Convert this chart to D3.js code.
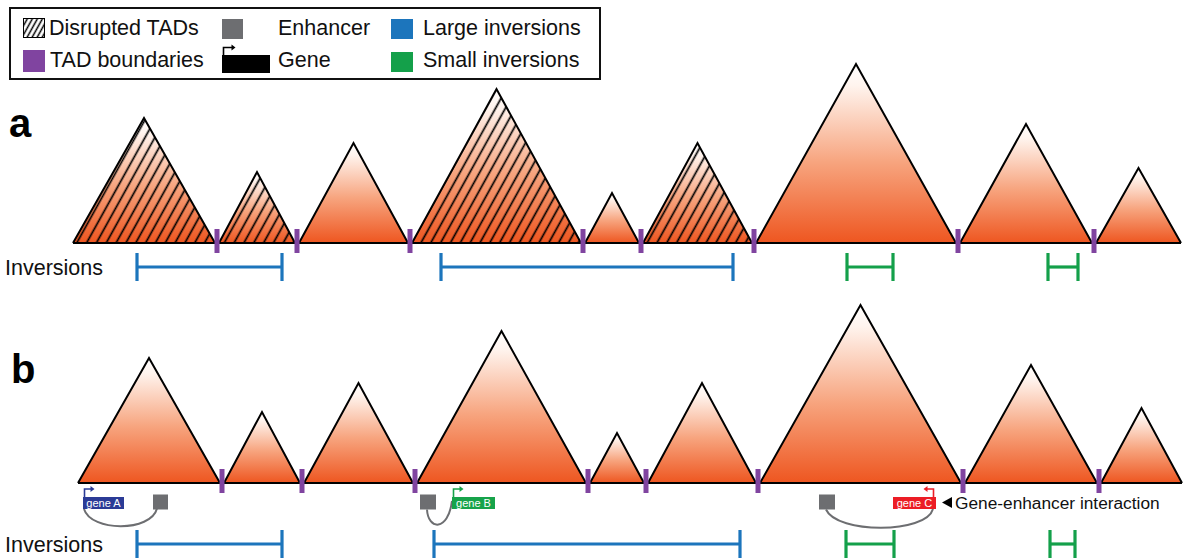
<!DOCTYPE html>
<html>
<head>
<meta charset="utf-8">
<script src="https://cdn.jsdelivr.net/npm/d3@7"></script>
<style>
  html, body { margin: 0; padding: 0; background: #fff; }
  svg { display: block; }
  text { font-family: "Liberation Sans", Arial, Helvetica, sans-serif; }
</style>
</head>
<body>
<svg id="chart" width="1183" height="559"></svg>
<script>
// ---------------- DATA ----------------
// TAD edges (relative genomic units) for panel a and b
const boundariesA = [0, 144, 224, 337, 510, 568, 681, 885, 1021, 1108];
const boundariesB = [0, 144, 224, 337, 510, 568, 680, 885, 1021, 1104];
// TAD heights (relative units)
const tadHeightsA = [125, 71, 100, 154, 50, 100, 179, 119, 75];
const tadHeightsB = [125, 71, 100, 152, 50, 100, 178, 118, 75];
// Disrupted TADs in panel a
const disruptedA = [true, true, false, true, false, true, false, false, false];
// Inversions [start, end]
const largeInvA = [[64, 209], [368, 660]];
const smallInvA = [[774, 820], [975, 1005]];
const largeInvB = [[59, 204], [356, 662]];
const smallInvB = [[768, 816], [972, 997]];
// Genes and enhancers (panel b)
const geneNames = ["gene A", "gene B", "gene C"];
const geneStart = [5, 374, 815];
const geneEnd = [46, 417, 858];
const geneStrand = [1, 1, -1];
const enhancerStart = [75, 342, 741];
const enhancerEnd = [90, 358, 757];
// Legend
const legendLabels = ["Disrupted TADs", "Enhancer", "Large inversions", "TAD boundaries", "Gene", "Small inversions"];
const panelLabels = ["a", "b"];
const inversionLabel = "Inversions";
const interactionLabel = "Gene-enhancer interaction";

// ---------------- STYLE ----------------
const C = {
  purple: "#8044a0", blue: "#1c75bc", green: "#14a04a", gray: "#6d6e71",
  geneColors: ["#2b3b96", "#17a34a", "#ec1d25"], orange: "#ef5722"
};

const svg = d3.select("#chart");
const defs = svg.append("defs");

const grad = defs.append("linearGradient").attr("id", "tadGrad")
  .attr("x1", 0).attr("y1", 0).attr("x2", 0).attr("y2", 1);
[[0, "#ffffff"], [0.12, "#fff4ee"], [0.55, "#f7a47e"], [1, "#ee5620"]].forEach(([o, c]) =>
  grad.append("stop").attr("offset", o).attr("stop-color", c));

function makeHatch(id, w, sw) {
  const p = defs.append("pattern").attr("id", id)
    .attr("patternUnits", "userSpaceOnUse").attr("width", w).attr("height", 20)
    .attr("patternTransform", "rotate(29)");
  p.append("line").attr("x1", w / 2).attr("y1", 0).attr("x2", w / 2).attr("y2", 20)
    .attr("stroke", "#000").attr("stroke-width", sw);
}
makeHatch("hatch", 8.6, 1.7);
makeHatch("hatchSmall", 4.4, 1.5);

// ---------------- PANELS ----------------
function drawPanel(cfg) {
  const g = svg.append("g");
  const x = d3.scaleLinear().domain([0, cfg.bounds[cfg.bounds.length - 1]]).range(cfg.xRange);
  const y = d3.scaleLinear().domain([0, 180]).range([cfg.base, cfg.base - 180]);
  const n = cfg.heights.length;
  const tris = cfg.heights.map((h, i) => {
    const x0 = x(cfg.bounds[i]) + (i > 0 ? 2 : 0);
    const x1 = x(cfg.bounds[i + 1]) - (i < n - 1 ? 2 : 0);
    return { pts: [[x0, cfg.base], [(x0 + x1) / 2, y(h)], [x1, cfg.base]], dis: cfg.disrupted ? cfg.disrupted[i] : false };
  });
  const line = d3.line();
  g.selectAll("path.tri").data(tris).join("path").attr("class", "tri")
    .attr("d", d => line(d.pts) + "Z").attr("fill", "url(#tadGrad)");
  g.selectAll("path.hat").data(tris.filter(d => d.dis)).join("path").attr("class", "hat")
    .attr("d", d => line(d.pts) + "Z").attr("fill", "url(#hatch)");
  g.selectAll("path.edge").data(tris).join("path").attr("class", "edge")
    .attr("d", d => line(d.pts)).attr("fill", "none").attr("stroke", "#000")
    .attr("stroke-width", 2).attr("stroke-linejoin", "miter");
  g.append("line").attr("x1", x(0)).attr("x2", x(cfg.bounds[cfg.bounds.length - 1]))
    .attr("y1", cfg.base).attr("y2", cfg.base).attr("stroke", "#000").attr("stroke-width", 2);
  g.selectAll("rect.bd").data(cfg.bounds.slice(1, -1)).join("rect").attr("class", "bd")
    .attr("x", d => x(d) - 2.5).attr("y", cfg.base - 14).attr("width", 5).attr("height", 24)
    .attr("fill", C.purple);

  // inversions
  const inv = cfg.large.map(d => ({ d, c: C.blue })).concat(cfg.small.map(d => ({ d, c: C.green })));
  const ig = g.selectAll("g.inv").data(inv).join("g").attr("class", "inv")
    .attr("stroke", d => d.c).attr("stroke-width", 3.2);
  ig.append("line").attr("x1", d => x(d.d[0])).attr("x2", d => x(d.d[1]))
    .attr("y1", cfg.invY).attr("y2", cfg.invY);
  ig.append("line").attr("x1", d => x(d.d[0])).attr("x2", d => x(d.d[0]))
    .attr("y1", cfg.invY - 14).attr("y2", cfg.invY + 14);
  ig.append("line").attr("x1", d => x(d.d[1])).attr("x2", d => x(d.d[1]))
    .attr("y1", cfg.invY - 14).attr("y2", cfg.invY + 14);
  g.append("text").attr("x", cfg.invLabelX).attr("y", cfg.invY + 8).attr("font-size", 21.5)
    .attr("fill", "#111").text(inversionLabel);
  g.append("text").attr("x", cfg.labelX).attr("y", cfg.labelY).attr("font-size", 40)
    .attr("font-weight", "bold").attr("fill", "#000").text(cfg.label);
  return { g, x };
}

drawPanel({ bounds: boundariesA, heights: tadHeightsA, disrupted: disruptedA, xRange: [73, 1181],
  base: 243, large: largeInvA, small: smallInvA, invY: 267, invLabelX: 5, label: panelLabels[0], labelX: 9, labelY: 137 });
const pb = drawPanel({ bounds: boundariesB, heights: tadHeightsB, disrupted: null, xRange: [78, 1182],
  base: 483, large: largeInvB, small: smallInvB, invY: 544, invLabelX: 5, label: panelLabels[1], labelX: 11, labelY: 383 });

// genes / enhancers in panel b
function bentArrow(g, x0, yBot, yTop, dir, len, color, w) {
  const x1 = x0 + dir * len;
  g.append("path").attr("d", `M${x0},${yBot}V${yTop}H${x1 - dir * 3}`)
    .attr("fill", "none").attr("stroke", color).attr("stroke-width", w || 1.6);
  g.append("path").attr("d", `M${x1},${yTop}L${x1 - dir * 4},${yTop - 3}L${x1 - dir * 4},${yTop + 3}Z`).attr("fill", color);
}
const xb = pb.x;
const gg = svg.append("g");
const geneTop = 497, geneH = 12, enhTop = 494.5, enhH = 15;
geneNames.forEach((name, i) => {
  const gx0 = xb(geneStart[i]), gx1 = xb(geneEnd[i]);
  const ex0 = xb(enhancerStart[i]), ex1 = xb(enhancerEnd[i]);
  const p = d3.path();
  if (i === 0) { p.moveTo(gx0 + 1, geneTop + geneH); p.bezierCurveTo(gx0 + 8, 532, ex0 - 2, 532, ex0 + 4, enhTop + enhH - 1); }
  if (i === 1) { p.moveTo(ex0 + 7, enhTop + enhH); p.bezierCurveTo(ex0 + 8, 530, gx0 - 4, 532, gx0, geneTop + 4); }
  if (i === 2) { p.moveTo(ex0 + 7, enhTop + enhH); p.bezierCurveTo(ex0 + 18, 534, gx1 - 10, 534, gx1 - 3, geneTop + geneH); }
  gg.append("path").attr("d", p.toString()).attr("fill", "none").attr("stroke", "#6d6e71").attr("stroke-width", 2);
  gg.append("rect").attr("x", ex0).attr("y", enhTop).attr("width", ex1 - ex0).attr("height", enhH).attr("fill", C.gray);
  gg.append("rect").attr("x", gx0).attr("y", geneTop).attr("width", gx1 - gx0).attr("height", geneH).attr("fill", C.geneColors[i]);
  gg.append("text").attr("x", (gx0 + gx1) / 2).attr("y", geneTop + geneH - 2.3).attr("text-anchor", "middle")
    .attr("font-size", 11).attr("fill", "#fff").text(name);
  if (geneStrand[i] > 0) bentArrow(gg, gx0 + 1.5, geneTop, 489, 1, 10, C.geneColors[i]);
  else bentArrow(gg, gx1 - 2.5, geneTop, 489, -1, 10, C.geneColors[i]);
});
// interaction annotation
const ax = xb(geneEnd[2]) + 6;
gg.append("path").attr("d", `M${ax},502.5L${ax + 10},497L${ax + 10},508Z`).attr("fill", "#000");
gg.append("text").attr("x", ax + 13).attr("y", 509).attr("font-size", 17.3).attr("fill", "#111").text(interactionLabel);

// ---------------- LEGEND ----------------
const lg = svg.append("g");
lg.append("rect").attr("x", 10).attr("y", 8).attr("width", 590).attr("height", 71)
  .attr("fill", "#fff").attr("stroke", "#111").attr("stroke-width", 2);
const row1 = 35, row2 = 67;
lg.append("rect").attr("x", 23).attr("y", 18).attr("width", 22).attr("height", 20).attr("fill", "#fff");
lg.append("rect").attr("x", 23).attr("y", 18).attr("width", 22).attr("height", 20).attr("fill", "url(#hatchSmall)");
lg.append("rect").attr("x", 23.5).attr("y", 18.5).attr("width", 21).attr("height", 19).attr("fill", "none")
  .attr("stroke", "#000").attr("stroke-width", 1);
lg.append("rect").attr("x", 222).attr("y", 19).attr("width", 21).attr("height", 20).attr("fill", C.gray);
lg.append("rect").attr("x", 391).attr("y", 19).attr("width", 22).attr("height", 20).attr("fill", C.blue);
lg.append("rect").attr("x", 23).attr("y", 50).attr("width", 22).attr("height", 22).attr("fill", C.purple);
lg.append("rect").attr("x", 222).attr("y", 55).attr("width", 48).attr("height", 18).attr("fill", "#000");
bentArrow(lg, 223.5, 55, 47.5, 1, 12, "#000", 1.6);
lg.append("rect").attr("x", 391).attr("y", 52).attr("width", 22).attr("height", 20).attr("fill", C.green);
const lx = [49, 278, 423, 50, 278, 423], ly = [row1, row1, row1, row2, row2, row2];
lg.selectAll("text.leg").data(legendLabels).join("text").attr("class", "leg")
  .attr("x", (d, i) => lx[i]).attr("y", (d, i) => ly[i])
  .attr("font-size", 21.5).attr("fill", "#111").text(d => d);
</script>
</body>
</html>
